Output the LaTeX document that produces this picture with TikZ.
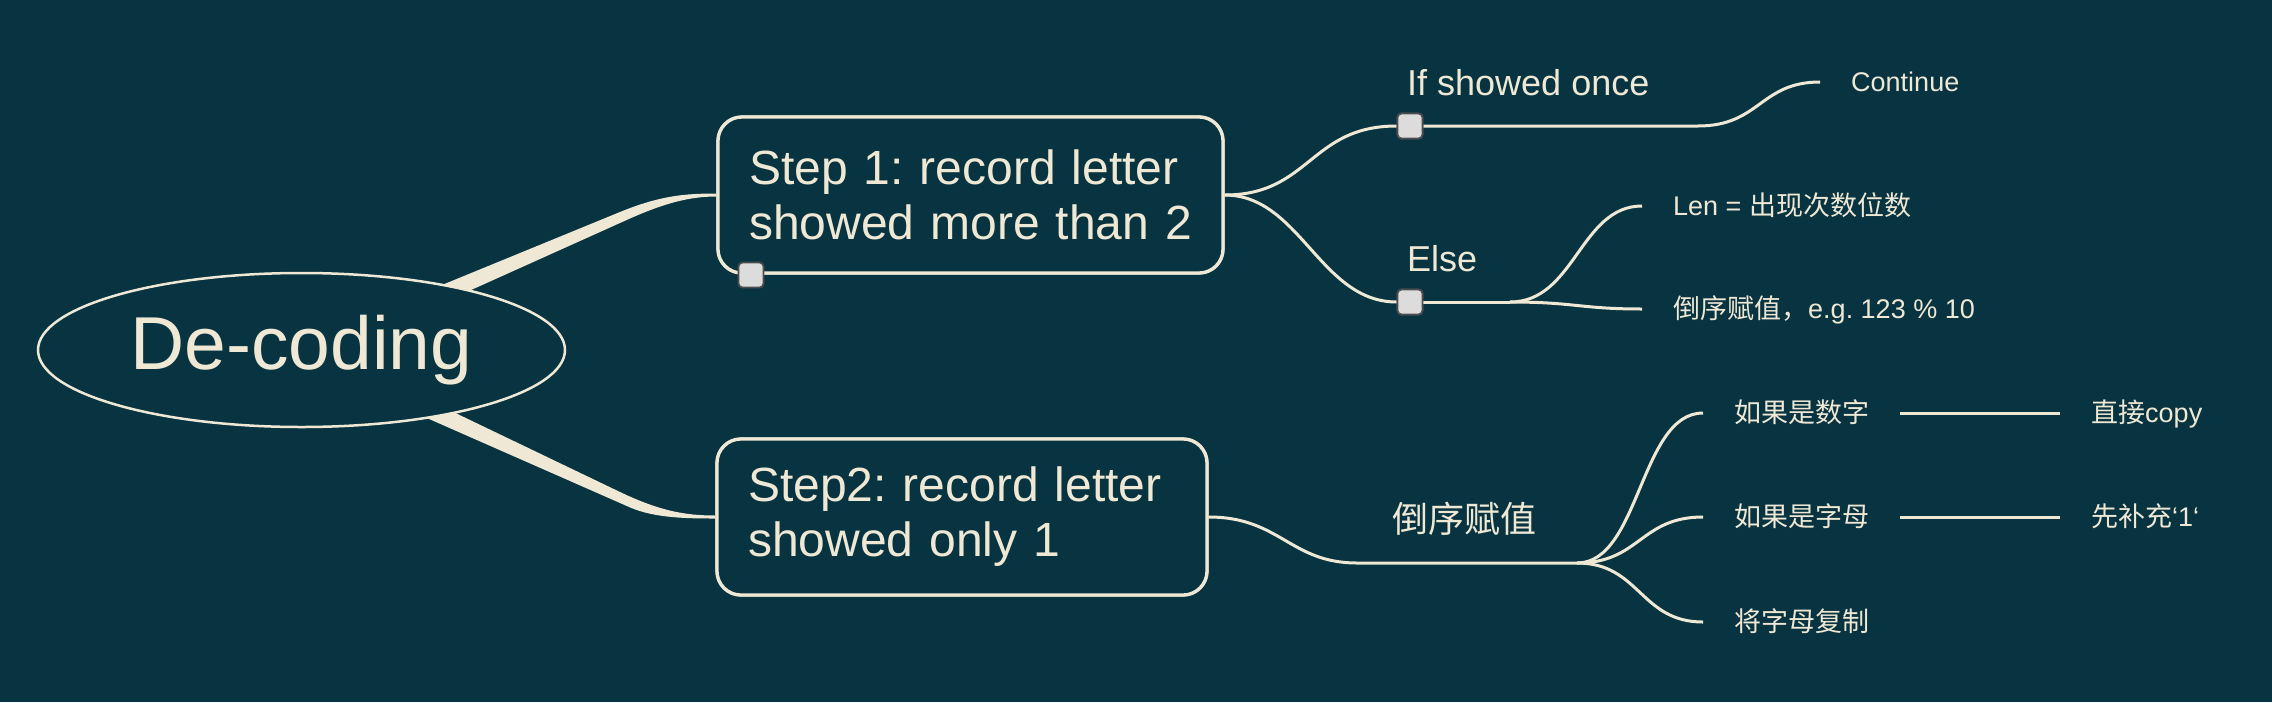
\documentclass[tikz,border=0pt]{standalone}
\usepackage{fontspec}
\setmainfont{Liberation Sans}
\newfontfamily\cjk{Noto Sans CJK SC}
\usetikzlibrary{shapes.geometric}
\definecolor{bg}{HTML}{083441}
\definecolor{fg}{HTML}{EEE8D5}
\definecolor{sqfill}{HTML}{DCDCDC}
\definecolor{sqedge}{HTML}{4D4D4D}
\frenchspacing
\begin{document}
\begin{tikzpicture}[x=1pt,y=-1pt,
  root/.style={ellipse, draw=fg, fill=bg, line width=2.5pt, minimum width=527pt, minimum height=154pt, text=fg, font=\fontsize{75}{88}\selectfont, inner sep=0pt},
  stepbox/.style={rectangle, rounded corners=24pt, draw=fg, line width=3.3pt, fill=bg, text=fg, font=\fontsize{48}{55}\selectfont, align=left, inner xsep=31pt, inner ysep=0pt, minimum height=156pt},
  sq/.style={rectangle, draw=sqedge, fill=sqfill, line width=1.8pt, rounded corners=4pt, minimum size=25pt, inner sep=0pt},
  conn/.style={draw=fg, line width=3pt},
  leaf/.style={anchor=west, text=fg, font=\fontsize{27}{32}\selectfont, inner xsep=31pt, inner ysep=0pt, text height=19.5pt, text depth=0pt},
  lbl/.style={anchor=base west, text=fg, font=\fontsize{36}{42}\selectfont, inner sep=0pt}
]
\path[use as bounding box, fill=bg] (0,0) rectangle (2272,702);

% step boxes (drawn first to get anchors)
\node[stepbox, text width=443pt] (s1) at (970.5,195) {Step 1: record letter\\showed more than 2};
\node[stepbox, text width=428pt] (s2) at (962,517) {Step2: record letter\\showed only 1};

% tapered main branches
\fill[fg] (420,294) -- (620,212) .. controls (660,195.6) and (685,193.5) .. ([yshift=1.5pt]s1.west)
  -- ([yshift=-1.5pt]s1.west) .. controls (690,196.5) and (665,203) .. (630,218.5) -- (420,313) -- cycle;
\fill[fg] (420,396) -- (620,492) .. controls (660,511) and (685,515.5) .. ([yshift=1.5pt]s2.west)
  -- ([yshift=-1.5pt]s2.west) .. controls (690,518.5) and (655,518.4) .. (630,507.4) -- (420,415) -- cycle;

\node[root] (root) at (301.5,350) {De-coding};
% boxes again on top of the branch ends
\node[stepbox, text width=443pt] at (970.5,195) {Step 1: record letter\\showed more than 2};
\node[stepbox, text width=428pt] at (962,517) {Step2: record letter\\showed only 1};

% step 1 subtree
\coordinate (c1) at (1698,126);
\coordinate (c2) at (1510,302);
\node[leaf] (cont) at (1820,82) {Continue};
\node[leaf] (len) at (1642,206) {Len = {\cjk 出现次数位数}};
\node[leaf] (rev1) at (1642,309) {{\cjk 倒序赋值，}e.g. 123 \% 10};

\node[sq] (sq1) at (1410,126) {};
\node[sq] (sq2) at (1410,302) {};

\draw[conn] (s1.east) .. controls (1310,195) and (1310,126) .. (sq1.west);
\draw[conn] (s1.east) .. controls (1300,195) and (1320,302) .. (sq2.west);
\draw[conn] (sq1.east) -- (c1) .. controls (1760,126) and (1760,82) .. (cont.west);
\draw[conn] (sq2.east) -- (c2);
\draw[conn] (c2) .. controls (1575,302) and (1580,206) .. (len.west);
\draw[conn] (c2) .. controls (1575,302) and (1580,309) .. (rev1.west);

\node[sq] at (1410,126) {};
\node[sq] at (1410,302) {};
\node[sq] (sq0) at (751,275) {};
\node[lbl] (ifonce) at (1407,95) {If showed once};
\node[lbl] (else) at (1407,271) {Else};

% step 2 subtree
\coordinate (rl) at (1357,563);
\coordinate (rr) at (1577,563);
\node[text=fg, font=\cjk\fontsize{36}{42}\selectfont, inner sep=0pt] (rev) at (1464,519) {倒序赋值};
\node[leaf] (num) at (1703,413) {{\cjk 如果是数字}};
\node[leaf] (let) at (1703,517) {{\cjk 如果是字母}};
\node[leaf] (cpy) at (1703,622) {{\cjk 将字母复制}};
\node[leaf] (direct) at (2060,413) {{\cjk 直接}copy};
\node[leaf] (pad) at (2060,517) {{\cjk 先补充}‘1‘};

\draw[conn] (s2.east) .. controls (1280,517) and (1290,563) .. (rl) -- (rr);
\draw[conn] (rr) .. controls (1640,563) and (1640,413) .. (num.west);
\draw[conn] (rr) .. controls (1640,563) and (1640,517) .. (let.west);
\draw[conn] (rr) .. controls (1640,563) and (1640,622) .. (cpy.west);
\draw[conn] (num.east) -- (direct.west);
\draw[conn] (let.east) -- (pad.west);
\end{tikzpicture}
\end{document}
